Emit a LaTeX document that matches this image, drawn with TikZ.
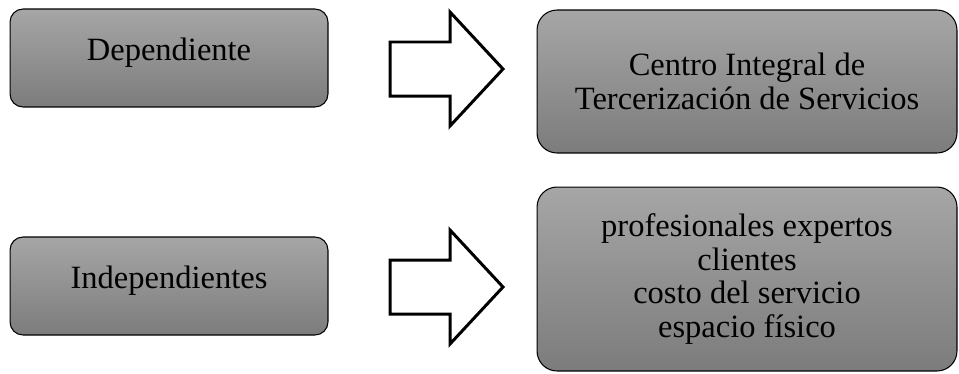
\documentclass[tikz,border=0pt]{standalone}
\usepackage{fontspec}
\setmainfont{Liberation Serif}

\definecolor{grisA}{RGB}{166,166,166}
\definecolor{grisB}{RGB}{124,124,124}

\tikzset{
  varbox/.style={draw=black, line width=0.6pt, rounded corners=0.26cm,
    top color=grisA, bottom color=grisB,
    minimum width=6.36cm, minimum height=1.96cm,
    font=\fontsize{18.5}{19}\selectfont, text height=12.6pt, text depth=10pt},
  defbox/.style={draw=black, line width=0.6pt, rounded corners=0.4cm,
    top color=grisA, bottom color=grisB,
    minimum width=8.4cm, align=center,
    font=\fontsize{18.5}{19}\selectfont},
  blockarrow/.style={draw=black, fill=white, line width=1.7pt}
}

\begin{document}
\begin{tikzpicture}[x=0.02cm, y=-0.02cm]
	\useasboundingbox (0,0) rectangle (959,373);
	% Boxes:
	\node[varbox] (dep) at (169,58) {Dependiente};
	\node[varbox] (indep) at (169,286) {Independientes};
	\node[defbox, minimum height=2.86cm] (centro) at (747,81.5)
		{Centro Integral de\\Tercerización de Servicios};
	\node[defbox, minimum height=3.68cm] (factores) at (747,279)
		{profesionales expertos\\clientes\\costo del servicio\\espacio físico};
	% Block arrows:
	\foreach \y in {69,287}
		\draw[blockarrow] (390,\y-27) -- (450,\y-27) -- (450,\y-57)
			-- (503,\y) -- (450,\y+57) -- (450,\y+27) -- (390,\y+27) -- cycle;
\end{tikzpicture}
\end{document}
